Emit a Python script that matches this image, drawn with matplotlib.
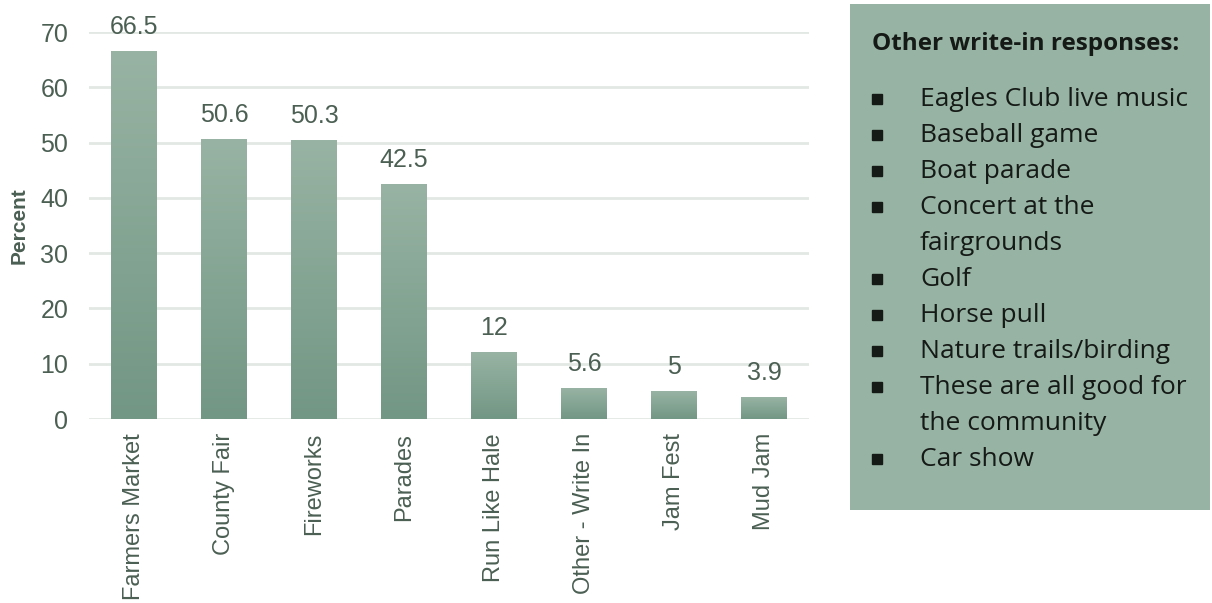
import matplotlib.pyplot as plt
import numpy as np
from matplotlib.colors import LinearSegmentedColormap

categories = ["Farmers Market", "County Fair", "Fireworks", "Parades",
              "Run Like Hale", "Other - Write In", "Jam Fest", "Mud Jam"]
percents = [66.5, 50.6, 50.3, 42.5, 12, 5.6, 5, 3.9]
value_labels = ["66.5", "50.6", "50.3", "42.5", "12", "5.6", "5", "3.9"]
yticks = [0, 10, 20, 30, 40, 50, 60, 70]

box_title = "Other write-in responses:"
write_ins = [
    "Eagles Club live music",
    "Baseball game",
    "Boat parade",
    "Concert at the\nfairgrounds",
    "Golf",
    "Horse pull",
    "Nature trails/birding",
    "These are all good for\nthe community",
    "Car show",
]

text_color = "#4b5f53"
grad = LinearSegmentedColormap.from_list("bar", ["#729784", "#98b3a3"])

fig = plt.figure(figsize=(12.12, 6.03), dpi=100)
ax = fig.add_axes([0.0734, 0.3051, 0.594, 0.6418])

x = np.arange(len(categories))
bars = ax.bar(x, percents, width=0.51, color="none", zorder=3)
gradient = np.linspace(0, 1, 256).reshape(-1, 1)
for b in bars:
    x0, w, h = b.get_x(), b.get_width(), b.get_height()
    ax.imshow(gradient, cmap=grad, origin="lower", aspect="auto",
              extent=(x0, x0 + w, 0, h), zorder=3)
ax.set_xlim(-0.5, len(categories) - 0.5)
ax.set_ylim(0, 70)

for xi, v, lab in zip(x, percents, value_labels):
    ax.annotate(lab, (xi, v), xytext=(0, 9), textcoords="offset points",
                ha="center", va="bottom", fontsize=18, color=text_color,
                family="Liberation Sans", annotation_clip=False)

ax.set_yticks(yticks)
ax.set_yticklabels([str(t) for t in yticks], fontsize=18, color=text_color,
                   family="Liberation Sans")
ax.set_xticks(x)
ax.set_xticklabels(categories, rotation=90, fontsize=17, color=text_color,
                   family="Liberation Sans")
ax.tick_params(length=0, axis="y", pad=15)
ax.tick_params(length=0, axis="x", pad=10)
ax.yaxis.grid(True, color="#e2e8e4", linewidth=2, zorder=0)
ax.set_axisbelow(True)
for s in ax.spines.values():
    s.set_visible(False)
ax.set_ylabel("Percent", fontsize=15, fontweight="bold", color=text_color,
              family="Liberation Sans", labelpad=8)

# write-in box
box = fig.add_axes([850 / 1212, 1 - 510 / 603, 360 / 1212, 506 / 603])
box.set_facecolor("#97b3a3")
box.set_xticks([])
box.set_yticks([])
for s in box.spines.values():
    s.set_visible(False)
box.set_xlim(0, 360)
box.set_ylim(506, 0)
box.text(22, 40, box_title, fontsize=17.5, fontweight="bold", color="#151a17",
         family="Open Sans", va="center", ha="left")
line = 0
for item in write_ins:
    for k, part in enumerate(item.split("\n")):
        y = 95 + line * 36
        if k == 0:
            box.plot(27, y, marker="s", markersize=6.5, color="#151a17")
        box.text(70, y, part, fontsize=19, color="#151a17",
                 family="Open Sans", va="center", ha="left")
        line += 1

fig.savefig("out.png", dpi=100)
